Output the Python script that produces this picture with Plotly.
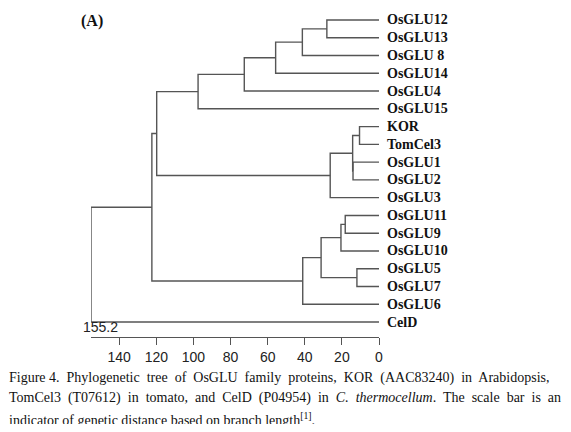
import plotly.graph_objects as go

# leaves, top to bottom
leaves = ["OsGLU12", "OsGLU13", "OsGLU 8", "OsGLU14", "OsGLU4", "OsGLU15",
          "KOR", "TomCel3", "OsGLU1", "OsGLU2", "OsGLU3",
          "OsGLU11", "OsGLU9", "OsGLU10", "OsGLU5", "OsGLU7", "OsGLU6", "CelD"]

# merges: (left, right, height) -> node named by index "n0", "n1", ...
merges = [
    ("OsGLU12", "OsGLU13", 28.1),   # n0
    ("n0", "OsGLU 8", 41.3),        # n1
    ("n1", "OsGLU14", 55.7),        # n2
    ("n2", "OsGLU4", 72.6),         # n3
    ("n3", "OsGLU15", 97.5),        # n4
    ("KOR", "TomCel3", 10.5),       # n5
    ("OsGLU1", "OsGLU2", 14.0),     # n6
    ("n5", "n6", 14.2),             # n7
    ("n7", "OsGLU3", 26.3),         # n8
    ("n4", "n8", 119.8),            # n9
    ("OsGLU11", "OsGLU9", 18.2),    # n10
    ("n10", "OsGLU10", 20.5),       # n11
    ("OsGLU5", "OsGLU7", 11.9),     # n12
    ("n11", "n12", 31.2),           # n13
    ("n13", "OsGLU6", 41.1),        # n14
    ("n9", "n14", 122.4),           # n15
    ("n15", "CelD", 155.2),         # n16
]

tick_vals = [140, 120, 100, 80, 60, 40, 20, 0]
line_col = "#555555"

pos = {name: (0.0, i) for i, name in enumerate(leaves)}
xs, ys = [], []
for k, (a, b, h) in enumerate(merges):
    xa, ya = pos[a]
    xb, yb = pos[b]
    xs += [xa, h, h, xb, None]
    ys += [ya, ya, yb, yb, None]
    pos[f"n{k}"] = (h, (ya + yb) / 2)

fig = go.Figure()
fig.add_trace(go.Scatter(x=xs, y=ys, mode="lines", hoverinfo="skip",
                         line=dict(color=line_col, width=1.4), showlegend=False))

for i, name in enumerate(leaves):
    fig.add_annotation(x=0, y=i, text=f"<b>{name}</b>", showarrow=False,
                       xanchor="left", xshift=6,
                       font=dict(family="Liberation Serif", size=14, color="#111"))

fig.add_annotation(xref="paper", yref="paper", x=-0.035, y=0.0, yanchor="bottom",
                   text="155.2", showarrow=False, xanchor="left",
                   font=dict(family="Liberation Sans", size=14, color="#222"))
fig.add_annotation(xref="paper", yref="paper", x=-0.04, y=1.0, yanchor="top",
                   text="<b>(A)</b>", showarrow=False, xanchor="left",
                   font=dict(family="Liberation Serif", size=16, color="#111"))

caption = [
    "Figure 4.  Phylogenetic  tree  of  OsGLU  family  proteins,  KOR  (AAC83240)  in  Arabidopsis,",
    "TomCel3  (T07612)  in  tomato,  and  CelD  (P04954)  in  <i>C.  thermocellum</i>.  The  scale  bar  is  an",
    "indicator of genetic distance based on branch length<sup>[1]</sup>.",
]
for j, line in enumerate(caption):
    fig.add_annotation(xref="paper", yref="paper", x=-0.292, y=-0.125 - j * 0.063,
                       text=line, showarrow=False, xanchor="left", yanchor="middle",
                       font=dict(family="Liberation Serif", size=14, color="#111"))

fig.update_layout(
    width=555, height=416,
    margin=dict(l=83, r=184, t=2, b=87),
    paper_bgcolor="white", plot_bgcolor="white",
    xaxis=dict(range=[155.2, 0], tickvals=tick_vals, showgrid=False, zeroline=False,
               showline=True, linecolor=line_col, linewidth=1.4,
               ticks="outside", ticklen=7, tickcolor=line_col,
               tickfont=dict(family="Liberation Sans", size=14, color="#222")),
    yaxis=dict(range=[17.84, -0.56], visible=False),
)

fig.write_html("out.html")
